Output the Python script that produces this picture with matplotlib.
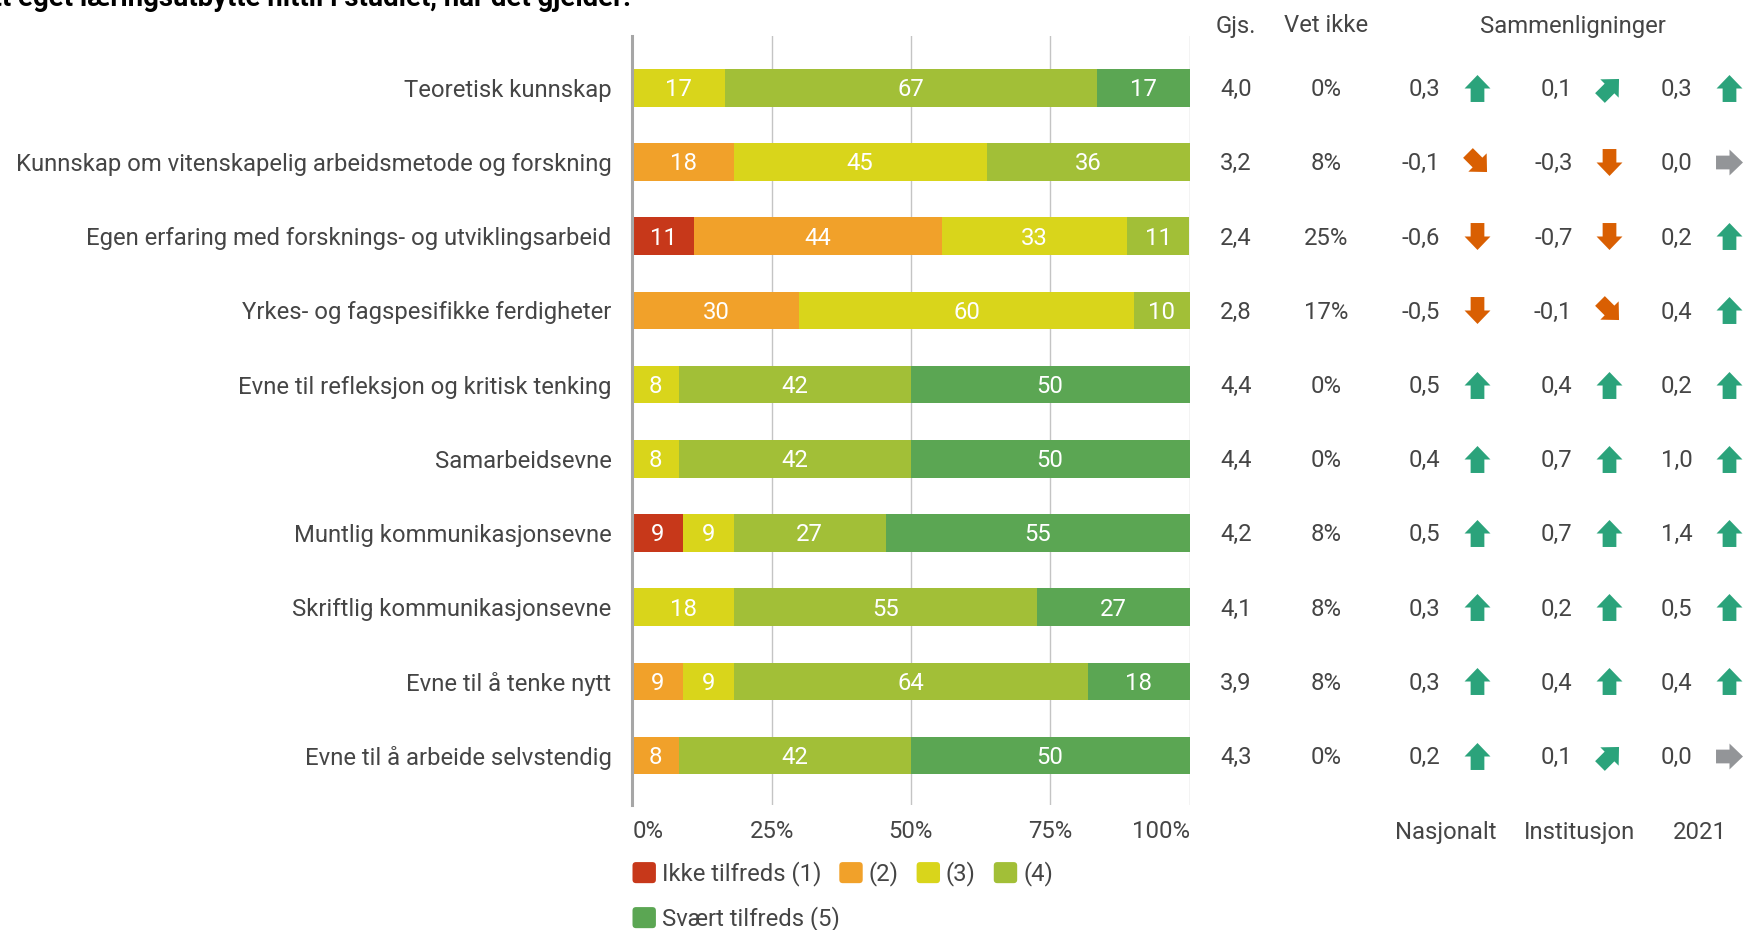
import numpy as np
import matplotlib
matplotlib.use("Agg")
import matplotlib.pyplot as plt
from matplotlib.patches import Patch, FancyBboxPatch
from matplotlib.legend_handler import HandlerPatch
from matplotlib.markers import MarkerStyle
from matplotlib.path import Path
from matplotlib.transforms import Affine2D, blended_transform_factory

plt.rcParams['font.family'] = ['Roboto', 'DejaVu Sans']

title = "Hvor tilfreds er du med ditt eget læringsutbytte hittil i studiet, når det gjelder:"
categories = [
    "Teoretisk kunnskap",
    "Kunnskap om vitenskapelig arbeidsmetode og forskning",
    "Egen erfaring med forsknings- og utviklingsarbeid",
    "Yrkes- og fagspesifikke ferdigheter",
    "Evne til refleksjon og kritisk tenking",
    "Samarbeidsevne",
    "Muntlig kommunikasjonsevne",
    "Skriftlig kommunikasjonsevne",
    "Evne til å tenke nytt",
    "Evne til å arbeide selvstendig",
]
series_names = ["Ikke tilfreds (1)", "(2)", "(3)", "(4)", "Svært tilfreds (5)"]
s1 = [0, 0, 11.1, 0, 0, 0, 9.1, 0, 0, 0]
s2 = [0, 18.2, 44.4, 30, 0, 0, 0, 0, 9.1, 8.3]
s3 = [16.7, 45.4, 33.3, 60, 8.3, 8.3, 9.1, 18.2, 9.1, 0]
s4 = [66.7, 36.4, 11.1, 10, 41.7, 41.7, 27.3, 54.5, 63.6, 41.7]
s5 = [16.7, 0, 0, 0, 50, 50, 54.5, 27.3, 18.2, 50]
gjs = [4.0, 3.2, 2.4, 2.8, 4.4, 4.4, 4.2, 4.1, 3.9, 4.3]
vet_ikke = [0, 8, 25, 17, 0, 0, 8, 8, 8, 0]
nasjonalt = [0.3, -0.1, -0.6, -0.5, 0.5, 0.4, 0.5, 0.3, 0.3, 0.2]
institusjon = [0.1, -0.3, -0.7, -0.1, 0.4, 0.7, 0.7, 0.2, 0.4, 0.1]
aar2021 = [0.3, 0.0, 0.2, 0.4, 0.2, 1.0, 1.4, 0.5, 0.4, 0.0]
comp_names = ["Nasjonalt", "Institusjon", "2021"]
xticks = [0, 25, 50, 75, 100]
xticklabels = ["0%", "25%", "50%", "75%", "100%"]

colors = ["#C7381A", "#F1A12A", "#D9D51B", "#A2BF37", "#5BA653"]
TXT = "#454545"
UP, DOWN, GREY = "#2BA37B", "#D95F02", "#939598"
FS = 17.2

W, H = 1743, 930
fig = plt.figure(figsize=(W / 100, H / 100), dpi=100)
ax_l, ax_r, ax_t, ax_b = 632.3, 1189.5, 36, 805
ax = fig.add_axes([ax_l / W, 1 - ax_b / H, (ax_r - ax_l) / W, (ax_b - ax_t) / H])

row_px = 74.2
# numbers: baseline placed half a digit-height below the row centre
NUM_OFF = 8.4 / row_px

n = len(categories)
y = np.arange(n)
left = np.zeros(n)
for vals, col in zip([s1, s2, s3, s4, s5], colors):
    vals = np.array(vals, dtype=float)
    ax.barh(y, vals, left=left, height=0.508, color=col, zorder=2)
    for i, v in enumerate(vals):
        if v > 0:
            ax.text(left[i] + v / 2, y[i] + NUM_OFF, str(int(v + 0.5)), color="white",
                    ha="center", va="baseline", fontsize=FS, zorder=3)
    left += vals

ax.set_xlim(0, 100)
ax.set_ylim(9.666, -0.698)
ax.set_yticks(y)
ax.set_yticklabels(categories, fontsize=FS, color=TXT)
ax.tick_params(axis="y", length=0, pad=15)
ax.set_xticks(xticks)
ax.set_xticklabels(xticklabels, fontsize=FS, color=TXT)
ax.tick_params(axis="x", length=0, pad=10.5)
labs = ax.get_xticklabels()
labs[0].set_ha("left")
labs[-1].set_ha("right")
ax.grid(axis="x", color="#c4c4c4", linewidth=1.0, zorder=0)
for s in ["top", "right", "bottom"]:
    ax.spines[s].set_visible(False)
ax.spines["left"].set_color("#a6a6a6")
ax.spines["left"].set_linewidth(2.2)
ax.spines["left"].set_zorder(4)

# Right-hand columns
bt = blended_transform_factory(fig.transFigure, ax.transData)
gjs_x, vet_x = 1236 / W, 1326 / W
for i in range(n):
    ax.text(gjs_x, y[i] + NUM_OFF, f"{gjs[i]:.1f}".replace(".", ","), transform=bt,
            ha="center", va="baseline", fontsize=FS, color=TXT, clip_on=False)
    ax.text(vet_x, y[i] + NUM_OFF, f"{vet_ikke[i]}%", transform=bt,
            ha="center", va="baseline", fontsize=FS, color=TXT, clip_on=False)

hdr_y = 1 - 32.5 / H
fig.text(gjs_x, hdr_y, "Gjs.", ha="center", va="baseline", fontsize=FS, color=TXT)
fig.text(vet_x, hdr_y, "Vet ikke", ha="center", va="baseline", fontsize=FS, color=TXT)
fig.text(1573 / W, hdr_y, "Sammenligninger", ha="center", va="baseline", fontsize=FS, color=TXT)

arrow_verts = [(0, 0.52), (0.5, 0), (0.265, 0), (0.265, -0.52), (-0.265, -0.52),
               (-0.265, 0), (-0.5, 0), (0, 0.52)]
arrow_path = Path(arrow_verts, [Path.MOVETO] + [Path.LINETO] * 6 + [Path.CLOSEPOLY])


def arrow_style(v):
    if v >= 0.15:
        return 0, UP
    if v >= 0.05:
        return -45, UP
    if v > -0.05:
        return -90, GREY
    if v > -0.15:
        return -135, DOWN
    return 180, DOWN


val_right = [1440, 1572.5, 1692.7]
label_x = [1446, 1579, 1700]
for k, comp in enumerate([nasjonalt, institusjon, aar2021]):
    xr = val_right[k] / W
    xa = (val_right[k] + 36.5) / W
    for i, v in enumerate(comp):
        ax.text(xr, y[i] + NUM_OFF, f"{v:.1f}".replace(".", ","), transform=bt,
                ha="right", va="baseline", fontsize=FS, color=TXT, clip_on=False)
        ang, col = arrow_style(v)
        m = MarkerStyle(arrow_path, transform=Affine2D().rotate_deg(ang))
        ax.plot([xa], [y[i]], transform=bt, marker=m, markersize=19.4,
                color=col, markeredgewidth=0, linestyle="none", clip_on=False, zorder=5)
    fig.text(label_x[k] / W, 1 - 838.5 / H, comp_names[k], ha="center", va="baseline",
             fontsize=FS, color=TXT)

# Title (cut off at the top edge, as in the reference)
fig.text(631 / W, 1 - 5.7 / H, title, ha="right", va="baseline", fontsize=19.85,
         fontweight="bold", color="black")


# Legend with rounded squares
def round_patch(legend, orig_handle, xdescent, ydescent, width, height, fontsize):
    return FancyBboxPatch((-xdescent, -ydescent), width, height,
                          boxstyle=f"round,pad=0,rounding_size={width * 0.15}",
                          facecolor=orig_handle.get_facecolor(), edgecolor="none")


handles = [Patch(facecolor=c) for c in colors]
hmap = {Patch: HandlerPatch(patch_func=round_patch)}
common = dict(frameon=False, fontsize=FS, handlelength=0.98, handleheight=0.98,
              handletextpad=0.25, columnspacing=0.75, borderpad=0, borderaxespad=0,
              labelcolor=TXT, loc="center left", handler_map=hmap)
leg1 = fig.legend(handles[:4], series_names[:4], ncol=4,
                  bbox_to_anchor=(632.5 / W, 1 - 873.9 / H), **common)
leg2 = fig.legend(handles[4:], series_names[4:], ncol=1,
                  bbox_to_anchor=(632.5 / W, 1 - 918.9 / H), **common)

fig.savefig("out.png", dpi=100)
